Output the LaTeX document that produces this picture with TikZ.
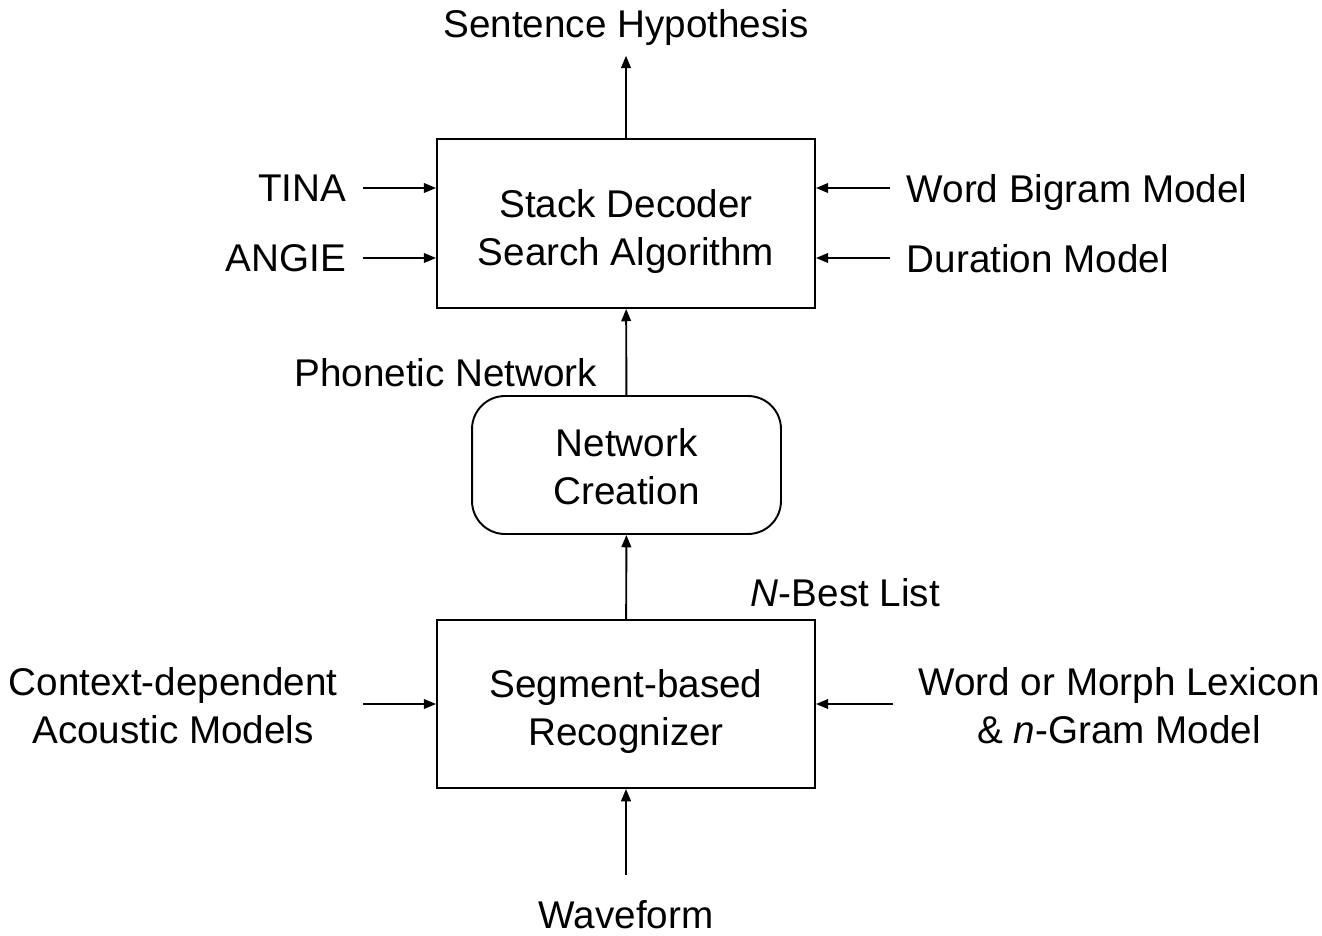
\documentclass[tikz,border=0pt]{standalone}
\usepackage{fontspec}
\setmainfont{Liberation Sans}
\usetikzlibrary{arrows.meta}

\begin{document}
\begin{tikzpicture}[x=0.02cm, y=-0.02cm, line width=1.1pt,
    >={Triangle[length=7pt,width=5.5pt]},
    every node/.style={font=\fontsize{22}{27.2}\selectfont, align=center},
    blk/.style={draw, minimum width=7.56cm, minimum height=3.38cm, text height=52pt},
    rblk/.style={draw, rounded corners=0.66cm, minimum width=6.18cm, minimum height=2.76cm, text height=45pt},
    lbl/.style={inner sep=9pt, text depth=0pt}]
      \useasboundingbox (0,0) rectangle (1322,936);
      % Boxes
      \node[blk] (stack) at (626,223.5) {Stack Decoder\\Search Algorithm};
      \node[rblk] (net) at (626.5,465) {Network\\Creation};
      \node[blk, minimum height=3.36cm] (seg) at (626,704) {Segment-based\\Recognizer};
      % Inputs and outputs
      \node[inner sep=5pt] (hyp) at (626,28) {Sentence Hypothesis};
      \node[inner ysep=0pt] (wave) at (626,915) {Waveform};
      \node[lbl, anchor=east] (tina) at (363,188) {TINA};
      \node[lbl, anchor=east] (angie) at (363,258) {ANGIE};
      \node[lbl, anchor=west] (bigram) at (890,188) {Word Bigram Model};
      \node[lbl, anchor=west] (dur) at (890,258) {Duration Model};
      \node[lbl, text depth=, inner xsep=14pt, anchor=east] (ctx) at (363,706)
      {Context-dependent\\Acoustic Models};
      \node[lbl, text depth=, inner xsep=14pt, anchor=west] (lex) at (893,706)
      {Word or Morph Lexicon\\\& \textit{n}-Gram Model};
      % Labels on the chain
      \node[lbl, anchor=east] (phon) at (614,372) {Phonetic Network};
      \node[anchor=west, inner sep=0pt] (nbest) at (750,593) {\textit{N}-Best List};
      % Arrows
      \draw[->] (stack) -- (hyp);
      \draw[->] (net) -- (stack);
      \draw[->] (seg) -- (net);
      \draw[->, shorten <=14pt] (wave) -- (seg);
      \draw[->] (tina) -- (stack.west |- tina);
      \draw[->] (angie) -- (stack.west |- angie);
      \draw[->] (bigram) -- (stack.east |- bigram);
      \draw[->] (dur) -- (stack.east |- dur);
      \draw[->] (ctx.east |- seg) -- (seg);
      \draw[->] (lex.west |- seg) -- (seg);
    \end{tikzpicture}
\end{document}
